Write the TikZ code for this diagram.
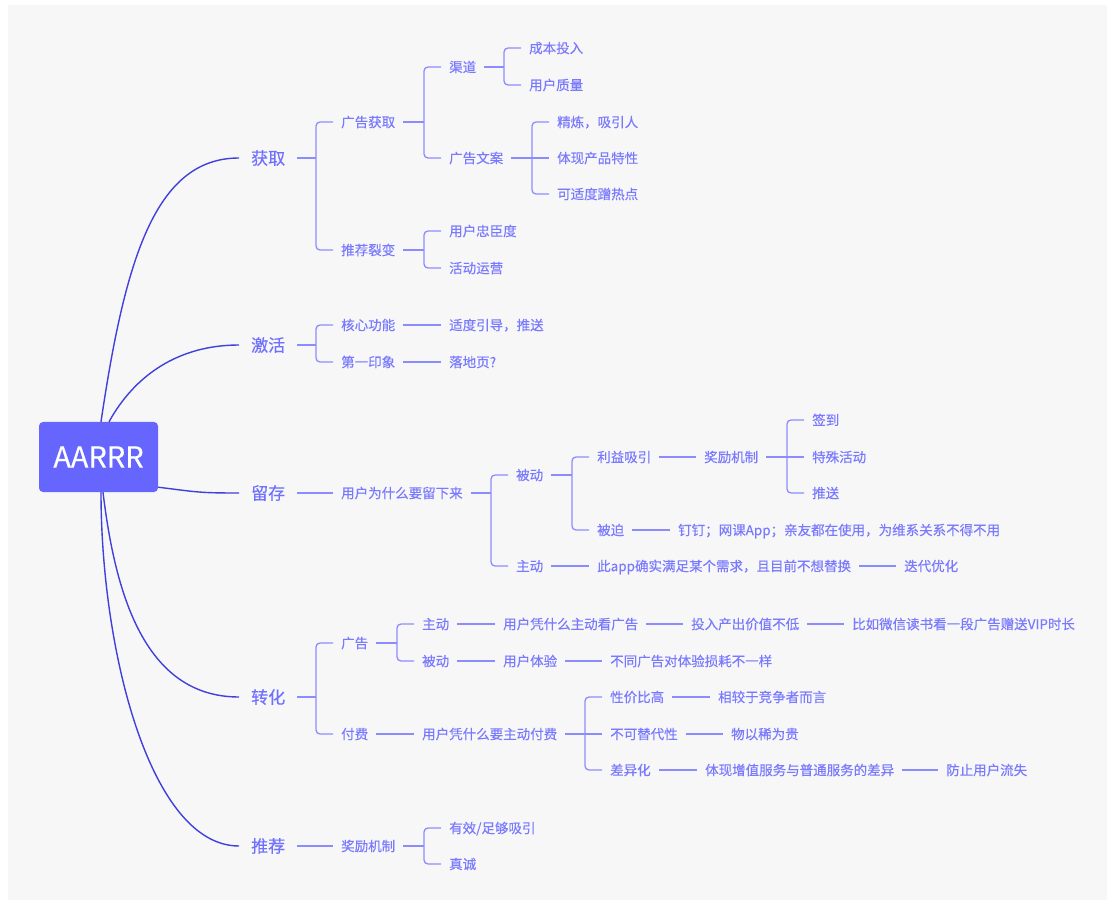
\documentclass[tikz,border=0pt]{standalone}
\usepackage{fontspec}
\setmainfont{Noto Sans CJK SC}[FakeBold=0.3]
\usetikzlibrary{calc}
\definecolor{bgc}{HTML}{F7F7F7}
\definecolor{rootc}{HTML}{6666FF}
\definecolor{mainc}{RGB}{64,64,220}
\definecolor{l1c}{RGB}{112,112,255}
\definecolor{txtc}{RGB}{122,122,255}
\definecolor{brc}{RGB}{140,140,255}
\begin{document}
\begin{tikzpicture}[x=1pt,y=-1pt,
  rootbox/.style={fill=rootc, rounded corners=4pt, minimum width=119pt, minimum height=70pt, text=white, font=\fontsize{29}{34}\selectfont, inner sep=0pt},
  lone/.style={anchor=west, inner xsep=12pt, inner ysep=0pt, text=l1c, font=\fontsize{17}{20}\selectfont, text height=15pt, text depth=2pt},
  lf/.style={anchor=west, inner xsep=8pt, inner ysep=0pt, text=txtc, font=\fontsize{13.5}{16}\selectfont, text height=11.9pt, text depth=1.6pt},
  maincurve/.style={draw=mainc, line width=1.4pt},
  br/.style={draw=brc, line width=1.3pt},
  brk/.style={br, rounded corners=4pt}]
\fill[white] (0,0) rectangle (1112,901);
\fill[bgc] (8,5) rectangle (1107,900);
\useasboundingbox (0,0) rectangle (1112,901);

% root
\node[rootbox] (root) at (98.5,457) {AARRR};

% level 1
\node[lone] (a1) at (239,158) {获取};
\node[lone] (a2) at (239,345) {激活};
\node[lone] (a3) at (239,493) {留存};
\node[lone] (a4) at (239,697) {转化};
\node[lone] (a5) at (239,846) {推荐};

% main curves
\draw[maincurve] ($(root.north)+(2.5,0)$) .. controls +(24,-162) and +(-84,0) .. (a1.west);
\draw[maincurve] ($(root.north)+(10.5,0)$) .. controls +(26,-47) and +(-60,0) .. (a2.west);
\draw[maincurve] ($(root.south east)+(0,-5)$) .. controls +(40,5) and +(-40,0) .. (a3.west);
\draw[maincurve] ($(root.south)+(4.5,0)$) .. controls +(12,100) and +(-95,0) .. (a4.west);
\draw[maincurve] ($(root.south)+(2.5,0)$) .. controls +(0,158) and +(-89,0) .. (a5.west);

% ---- 获取
\node[lf] (b1) at (333,122) {广告获取};
\node[lf] (b2) at (333,250) {推荐裂变};
\node[lf] (c1) at (441,67) {渠道};
\node[lf] (c2) at (441,158) {广告文案};
\node[lf] (d1) at (521,48) {成本投入};
\node[lf] (d2) at (521,85) {用户质量};
\node[lf] (d3) at (549,122) {精炼，吸引人};
\node[lf] (d4) at (549,158) {体现产品特性};
\node[lf] (d5) at (549,194) {可适度蹭热点};
\node[lf] (c3) at (441,231) {用户忠臣度};
\node[lf] (c4) at (441,268) {活动运营};

\draw[br] (a1.east) -- ($(a1.east -| b1.west)+(-17,0)$);
\draw[brk] (b1.west) -- ++(-17,0) |- (b2.west);
\draw[br] (b1.east) -- ($(b1.east -| c1.west)+(-17,0)$);
\draw[brk] (c1.west) -- ++(-17,0) |- (c2.west);
\draw[br] (c1.east) -- ($(c1.east -| d1.west)+(-17,0)$);
\draw[brk] (d1.west) -- ++(-17,0) |- (d2.west);
\draw[br] (c2.east) -- (d4.west);
\draw[brk] (d3.west) -- ++(-17,0) |- (d5.west);
\draw[br] (b2.east) -- ($(b2.east -| c3.west)+(-17,0)$);
\draw[brk] (c3.west) -- ++(-17,0) |- (c4.west);

% ---- 激活
\node[lf] (b3) at (333,325) {核心功能};
\node[lf] (b4) at (333,362) {第一印象};
\node[lf] (c5) at (441,325) {适度引导，推送};
\node[lf] (c6) at (441,362) {落地页?};
\draw[br] (a2.east) -- ($(a2.east -| b3.west)+(-17,0)$);
\draw[brk] (b3.west) -- ++(-17,0) |- (b4.west);
\draw[br] (b3.east) -- (c5.west);
\draw[br] (b4.east) -- (c6.west);

% ---- 留存
\node[lf] (b5) at (333,493) {用户为什么要留下来};
\node[lf] (c7) at (508,475) {被动};
\node[lf] (c8) at (508,566) {主动};
\node[lf] (d6) at (589,457) {利益吸引};
\node[lf] (d7) at (589,530) {被迫};
\node[lf] (e1) at (696,457) {奖励机制};
\node[lf] (f1) at (804,420) {签到};
\node[lf] (f2) at (804,457) {特殊活动};
\node[lf] (f3) at (804,493) {推送};
\node[lf] (e2) at (670,530) {钉钉；网课App；亲友都在使用，为维系关系不得不用};
\node[lf] (d8) at (589,566) {此app确实满足某个需求，且目前不想替换};
\node[lf] (e3) at (896,566) {迭代优化};
\draw[br] (a3.east) -- (b5.west);
\draw[br] (b5.east) -- ($(b5.east -| c7.west)+(-17,0)$);
\draw[brk] (c7.west) -- ++(-17,0) |- (c8.west);
\draw[br] (c7.east) -- ($(c7.east -| d6.west)+(-17,0)$);
\draw[brk] (d6.west) -- ++(-17,0) |- (d7.west);
\draw[br] (d6.east) -- (e1.west);
\draw[br] (e1.east) -- (f2.west);
\draw[brk] (f1.west) -- ++(-17,0) |- (f3.west);
\draw[br] (d7.east) -- (e2.west);
\draw[br] (c8.east) -- (d8.west);
\draw[br] (d8.east) -- (e3.west);

% ---- 转化
\node[lf] (b6) at (333,643) {广告};
\node[lf] (b7) at (333,734) {付费};
\node[lf] (c9) at (414,624) {主动};
\node[lf] (c10) at (414,661) {被动};
\node[lf] (d9) at (495,624) {用户凭什么主动看广告};
\node[lf] (e4) at (683,624) {投入产出价值不低};
\node[lf] (f4) at (844,624) {比如微信读书看一段广告赠送VIP时长};
\node[lf] (d10) at (495,661) {用户体验};
\node[lf] (e5) at (602,661) {不同广告对体验损耗不一样};
\node[lf] (c11) at (414,734) {用户凭什么要主动付费};
\node[lf] (d11) at (602,697) {性价比高};
\node[lf] (d12) at (602,734) {不可替代性};
\node[lf] (d13) at (602,770) {差异化};
\node[lf] (e6) at (710,697) {相较于竞争者而言};
\node[lf] (e7) at (723,734) {物以稀为贵};
\node[lf] (e8) at (697,770) {体现增值服务与普通服务的差异};
\node[lf] (f5) at (938,770) {防止用户流失};
\draw[br] (a4.east) -- ($(a4.east -| b6.west)+(-17,0)$);
\draw[brk] (b6.west) -- ++(-17,0) |- (b7.west);
\draw[br] (b6.east) -- ($(b6.east -| c9.west)+(-17,0)$);
\draw[brk] (c9.west) -- ++(-17,0) |- (c10.west);
\draw[br] (c9.east) -- (d9.west);
\draw[br] (d9.east) -- (e4.west);
\draw[br] (e4.east) -- (f4.west);
\draw[br] (c10.east) -- (d10.west);
\draw[br] (d10.east) -- (e5.west);
\draw[br] (b7.east) -- (c11.west);
\draw[br] (c11.east) -- (d12.west);
\draw[brk] (d11.west) -- ++(-17,0) |- (d13.west);
\draw[br] (d11.east) -- (e6.west);
\draw[br] (d12.east) -- (e7.west);
\draw[br] (d13.east) -- (e8.west);
\draw[br] (e8.east) -- (f5.west);

% ---- 推荐
\node[lf] (b8) at (333,846) {奖励机制};
\node[lf] (c12) at (441,828) {有效/足够吸引};
\node[lf] (c13) at (441,864) {真诚};
\draw[br] (a5.east) -- (b8.west);
\draw[br] (b8.east) -- ($(b8.east -| c12.west)+(-17,0)$);
\draw[brk] (c12.west) -- ++(-17,0) |- (c13.west);
\end{tikzpicture}
\end{document}
